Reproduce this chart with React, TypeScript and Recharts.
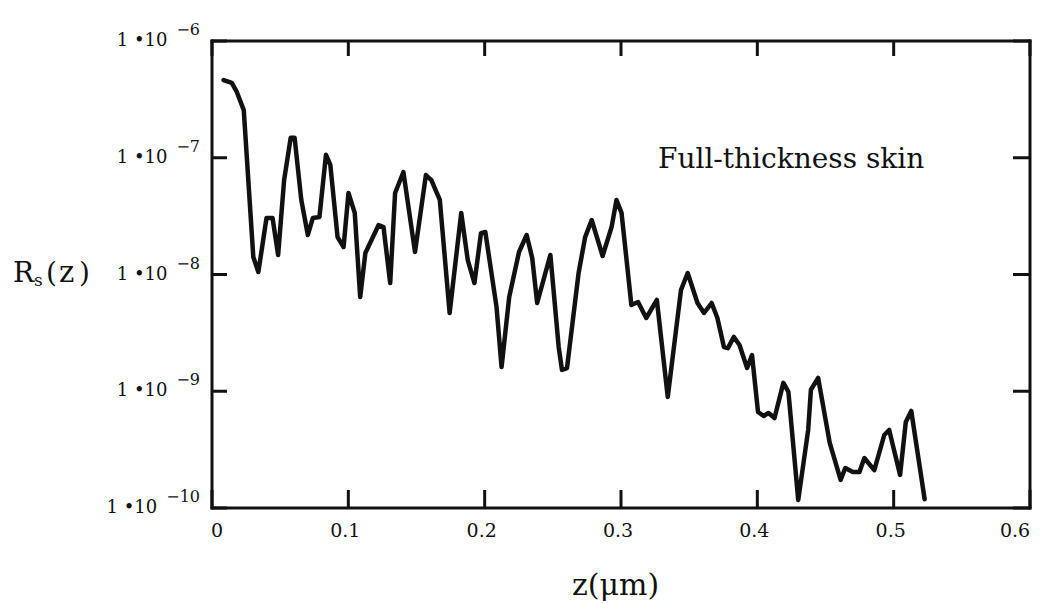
import React from 'react';
import { LineChart, Line, XAxis, YAxis } from 'recharts';

const zValues = [
  0.0085, 0.0145, 0.0182, 0.0233, 0.0303, 0.034, 0.04, 0.0444, 0.0485, 0.0529,
  0.0577, 0.0606, 0.0655, 0.0703, 0.074, 0.0788, 0.0836, 0.0868, 0.0921, 0.0965,
  0.1001, 0.1047, 0.1087, 0.1125, 0.1222, 0.1258, 0.1307, 0.1343, 0.1404, 0.1489,
  0.1569, 0.1609, 0.1671, 0.1743, 0.1828, 0.1876, 0.1925, 0.1973, 0.2005, 0.2087,
  0.2124, 0.218, 0.2252, 0.2308, 0.2349, 0.2385, 0.2482, 0.2543, 0.2567, 0.2604,
  0.2689, 0.2737, 0.2785, 0.2865, 0.2931, 0.2967, 0.3004, 0.3076, 0.3125, 0.3185,
  0.3263, 0.3343, 0.344, 0.3489, 0.3561, 0.3609, 0.3665, 0.3707, 0.3755, 0.3784,
  0.3828, 0.3869, 0.3925, 0.3961, 0.4005, 0.4046, 0.4082, 0.4126, 0.4191, 0.4228,
  0.43, 0.4373, 0.4393, 0.4446, 0.4531, 0.4611, 0.4645, 0.47, 0.4749, 0.4785,
  0.4858, 0.4931, 0.4967, 0.5047, 0.5089, 0.5129, 0.5227,
];

const rsValues = [
  4.63e-7, 4.37e-7, 3.66e-7, 2.56e-7, 1.41e-8, 1.05e-8, 3.05e-8, 3.05e-8, 1.47e-8, 6.44e-8,
  1.48e-7, 1.48e-7, 4.35e-8, 2.18e-8, 3.05e-8, 3.11e-8, 1.06e-7, 8.67e-8, 2.09e-8, 1.72e-8,
  4.99e-8, 3.37e-8, 6.41e-9, 1.53e-8, 2.65e-8, 2.55e-8, 8.45e-9, 4.99e-8, 7.55e-8, 1.56e-8,
  7.11e-8, 6.44e-8, 4.35e-8, 4.68e-9, 3.37e-8, 1.33e-8, 8.45e-9, 2.26e-8, 2.31e-8, 5.27e-9,
  1.61e-9, 6.41e-9, 1.56e-8, 2.18e-8, 1.38e-8, 5.7e-9, 1.47e-8, 2.39e-9, 1.52e-9, 1.58e-9,
  1.03e-8, 2.09e-8, 2.93e-8, 1.44e-8, 2.55e-8, 4.35e-8, 3.37e-8, 5.48e-9, 5.81e-9, 4.24e-9,
  6.05e-9, 8.93e-10, 7.36e-9, 1.03e-8, 5.7e-9, 4.68e-9, 5.7e-9, 4.24e-9, 2.39e-9, 2.34e-9,
  2.92e-9, 2.49e-9, 1.58e-9, 2.04e-9, 6.64e-10, 6.14e-10, 6.52e-10, 5.9e-10, 1.18e-9, 9.86e-10,
  1.17e-10, 4.66e-10, 1.03e-9, 1.3e-9, 3.61e-10, 1.74e-10, 2.2e-10, 2.03e-10, 2.03e-10, 2.68e-10,
  2.11e-10, 4.22e-10, 4.66e-10, 1.92e-10, 5.46e-10, 6.78e-10, 1.19e-10,
];

const xTicks = [0, 0.1, 0.2, 0.3, 0.4, 0.5, 0.6];
const xTickLabels = ['0', '0.1', '0.2', '0.3', '0.4', '0.5', '0.6'];
const yTicks = [1e-10, 1e-9, 1e-8, 1e-7, 1e-6];
const yTickMantissa = '1 \u202210';
const yTickExponents = ['\u221210', '\u22129', '\u22128', '\u22127', '\u22126'];
const annotation = 'Full-thickness skin';
const xLabel = 'z(\u03bcm)';

const data = zValues.map((z, i) => ({ z, rs: rsValues[i] }));

const FONT = '"DejaVu Serif", serif';
const INK = '#111111';
const W = 1024;
const H = 595;

function XTick(props: any) {
  const { x, y, payload } = props;
  const idx = xTicks.findIndex((t) => Math.abs(t - payload.value) < 1e-9);
  let dx = -3;
  if (idx === 0) dx = 5;
  if (idx === xTicks.length - 1) dx = -15;
  return (
    <text x={x + dx} y={y} textAnchor="middle" fontFamily={FONT} fontSize={19} fill={INK}>
      {xTickLabels[idx]}
    </text>
  );
}

function YTick(props: any) {
  const { x, y, payload } = props;
  const idx = yTicks.findIndex(
    (t) => Math.abs(Math.log10(t) - Math.log10(payload.value)) < 1e-6
  );
  return (
    <text x={x} y={y + 5} textAnchor="end" fontFamily={FONT} fill={INK}>
      <tspan fontSize={18}>{yTickMantissa}</tspan>
      <tspan fontSize={16} dx={9} dy={-11}>
        {yTickExponents[idx]}
      </tspan>
    </text>
  );
}

const Empty = () => <g />;

const axisLineStyle = { stroke: INK, strokeWidth: 3, strokeLinecap: 'square' as const };
const tickLineStyle = { stroke: INK, strokeWidth: 3 };

export default function App() {
  return (
    <div style={{ position: 'relative', width: W, height: H }}>
      <LineChart
        width={W}
        height={H}
        data={data}
        margin={{ top: 32, right: 1, bottom: 65, left: 0 }}
      >
        <XAxis
          dataKey="z"
          type="number"
          domain={[0, 0.6]}
          ticks={xTicks}
          allowDataOverflow
          height={30}
          axisLine={axisLineStyle}
          tickLine={tickLineStyle}
          tickSize={-18}
          tickMargin={47}
          tick={XTick}
          interval={0}
        />
        <XAxis
          xAxisId="top"
          orientation="top"
          dataKey="z"
          type="number"
          domain={[0, 0.6]}
          ticks={xTicks}
          allowDataOverflow
          height={1}
          axisLine={axisLineStyle}
          tickLine={tickLineStyle}
          tickSize={-15}
          tick={Empty}
          interval={0}
        />
        <YAxis
          yAxisId="left"
          type="number"
          scale="log"
          domain={[1e-10, 1e-6]}
          ticks={yTicks}
          allowDataOverflow
          width={204}
          axisLine={axisLineStyle}
          tickLine={tickLineStyle}
          tickSize={-15}
          tickMargin={27}
          tick={YTick}
          interval={0}
        />
        <YAxis
          yAxisId="right"
          orientation="right"
          type="number"
          scale="log"
          domain={[1e-10, 1e-6]}
          ticks={yTicks}
          allowDataOverflow
          width={1}
          axisLine={axisLineStyle}
          tickLine={tickLineStyle}
          tickSize={-17}
          tick={Empty}
          interval={0}
        />
        <Line
          xAxisId="top"
          yAxisId="right"
          dataKey="rs"
          type="linear"
          stroke="none"
          strokeWidth={0}
          dot={false}
          activeDot={false}
          legendType="none"
          isAnimationActive={false}
        />
        <Line
          yAxisId="left"
          dataKey="rs"
          type="linear"
          stroke={INK}
          strokeWidth={4.5}
          strokeLinejoin="round"
          strokeLinecap="round"
          dot={false}
          activeDot={false}
          isAnimationActive={false}
        />
      </LineChart>
      <svg
        width={W}
        height={H}
        style={{ position: 'absolute', left: 0, top: 0, pointerEvents: 'none' }}
      >
        <text x={650} y={160} fontFamily={FONT} fontSize={28} fill={INK}>
          {annotation}
        </text>
        <text y={274} fontFamily={FONT} fill={INK}>
          <tspan x={5} fontSize={28}>R</tspan>
          <tspan x={26} dy={4} fontSize={17}>s</tspan>
          <tspan x={38} dy={-4} fontSize={28}>(</tspan>
          <tspan x={51} fontSize={29}>z</tspan>
          <tspan x={71} fontSize={28}>)</tspan>
        </text>
        <text x={564} y={587} fontFamily={FONT} fontSize={30} fill={INK}>
          {xLabel}
        </text>
      </svg>
    </div>
  );
}
